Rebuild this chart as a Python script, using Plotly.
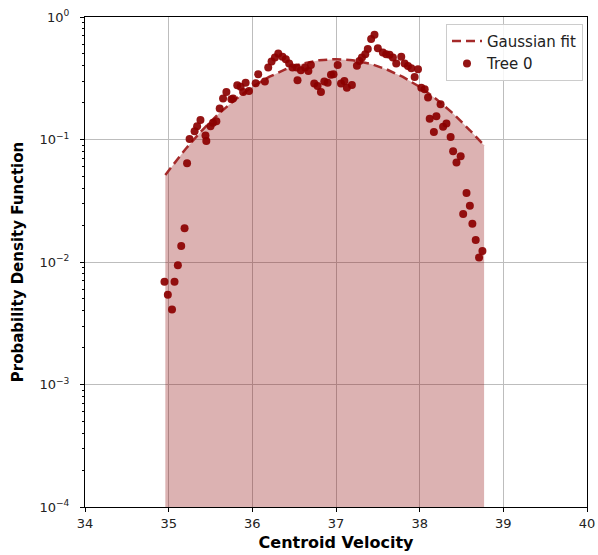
import plotly.graph_objects as go

# Histogram points (Tree 0)
tree_x = [34.95, 34.99, 35.04, 35.07, 35.11, 35.15, 35.19, 35.22, 35.25, 35.31,
          35.34, 35.38, 35.44, 35.45, 35.50, 35.53, 35.57, 35.61, 35.65, 35.69,
          35.75, 35.77, 35.82, 35.86, 35.89, 35.92, 35.96, 36.04, 36.07, 36.15,
          36.19, 36.23, 36.27, 36.31, 36.36, 36.40, 36.44, 36.48, 36.53, 36.54,
          36.58, 36.63, 36.67, 36.70, 36.74, 36.78, 36.82, 36.86, 36.90, 36.94,
          36.97, 37.02, 37.06, 37.10, 37.13, 37.19, 37.25, 37.28, 37.31, 37.35,
          37.38, 37.42, 37.46, 37.50, 37.56, 37.60, 37.64, 37.68, 37.72, 37.78,
          37.82, 37.86, 37.90, 37.94, 37.98, 38.02, 38.06, 38.10, 38.12, 38.17,
          38.20, 38.25, 38.28, 38.32, 38.37, 38.40, 38.44, 38.49, 38.52, 38.56,
          38.60, 38.63, 38.67, 38.71, 38.75]
tree_y = [0.0069, 0.0054, 0.0041, 0.0069, 0.0094, 0.0135, 0.0189, 0.064, 0.101, 0.117,
          0.128, 0.144, 0.108, 0.097, 0.128, 0.137, 0.141, 0.179, 0.216, 0.244,
          0.213, 0.216, 0.277, 0.270, 0.244, 0.291, 0.249, 0.288, 0.341, 0.297,
          0.387, 0.434, 0.467, 0.504, 0.473, 0.453, 0.417, 0.387, 0.387, 0.305,
          0.368, 0.387, 0.363, 0.406, 0.286, 0.273, 0.244, 0.297, 0.291, 0.337,
          0.341, 0.406, 0.286, 0.301, 0.265, 0.279, 0.400, 0.438, 0.467, 0.497,
          0.547, 0.660, 0.716, 0.557, 0.514, 0.497, 0.491, 0.467, 0.417, 0.473,
          0.417, 0.399, 0.382, 0.324, 0.375, 0.265, 0.257, 0.220, 0.148, 0.115,
          0.155, 0.194, 0.127, 0.135, 0.105, 0.080, 0.065, 0.073, 0.0247, 0.0366,
          0.0288, 0.0205, 0.0151, 0.0109, 0.0123]

# Gaussian fit curve
fit_x = [34.96, 35.2, 35.4, 35.6, 35.8, 36.0, 36.2, 36.4, 36.6, 36.8, 37.0,
         37.2, 37.4, 37.6, 37.8, 38.0, 38.2, 38.4, 38.6, 38.77]
fit_y = [0.0514, 0.0833, 0.119, 0.163, 0.213, 0.269, 0.324, 0.375, 0.417, 0.444, 0.453,
         0.444, 0.417, 0.375, 0.324, 0.269, 0.213, 0.163, 0.119, 0.0897]

y_floor = 1e-4
x_ticks = [34, 35, 36, 37, 38, 39, 40]
y_ticks = [1e-4, 1e-3, 1e-2, 1e-1, 1e0]
y_ticktext = ["10<sup>\u22124</sup>", "10<sup>\u22123</sup>", "10<sup>\u22122</sup>",
              "10<sup>\u22121</sup>", "10<sup>0</sup>"]
y_minor = [m * d for d in [1e-4, 1e-3, 1e-2, 1e-1] for m in range(2, 10)]

fig = go.Figure()

# shaded area under the fit
fig.add_trace(go.Scatter(
    x=fit_x + fit_x[::-1],
    y=fit_y + [y_floor] * len(fit_x),
    fill="toself", mode="none",
    fillcolor="rgba(139,0,0,0.3)",
    showlegend=False, hoverinfo="skip"))

fig.add_trace(go.Scatter(
    x=fit_x, y=fit_y, mode="lines", name="Gaussian fit",
    line=dict(color="#a52a2a", width=2.5, dash="9px,5px")))

fig.add_trace(go.Scatter(
    x=tree_x, y=tree_y, mode="markers", name="Tree 0",
    marker=dict(color="#8b0000", size=8, opacity=0.92, line=dict(width=0))))

axis_common = dict(
    showline=True, linecolor="black", linewidth=1, mirror=True,
    ticks="outside", ticklen=4, tickcolor="black",
    showgrid=True, gridcolor="#bdbdbd", gridwidth=1,
    zeroline=False, automargin=False,
    tickfont=dict(family="DejaVu Sans", size=13, color="#222"),
)

fig.update_xaxes(range=[34, 40], tickvals=x_ticks,
                 title=dict(text="<b>Centroid Velocity</b>",
                            font=dict(family="DejaVu Sans", size=16, color="black"),
                            standoff=7),
                 **axis_common)
fig.update_yaxes(type="log", range=[-4, 0], tickvals=y_ticks, ticktext=y_ticktext,
                 ticklabelstandoff=8,
                 minor=dict(tickvals=y_minor, ticks="outside", ticklen=2,
                            tickcolor="black", showgrid=False),
                 title=dict(text="<b>Probability Density Function</b>",
                            font=dict(family="DejaVu Sans", size=15, color="black"),
                            standoff=12),
                 **axis_common)

fig.update_layout(
    width=598, height=555,
    margin=dict(l=85, r=11, t=17, b=48),
    plot_bgcolor="white", paper_bgcolor="white",
    font=dict(family="DejaVu Sans"),
    legend=dict(x=0.992, y=0.986, xanchor="right", yanchor="top",
                bgcolor="rgba(255,255,255,0.85)", bordercolor="#cccccc", borderwidth=1,
                font=dict(family="DejaVu Sans", size=15, color="#222"),
                itemwidth=30, tracegroupgap=2),
)

fig.write_html("out.html",
               config={"displayModeBar": False},
               post_script="document.body.style.margin='0';"
                           "document.body.style.overflow='hidden';")
